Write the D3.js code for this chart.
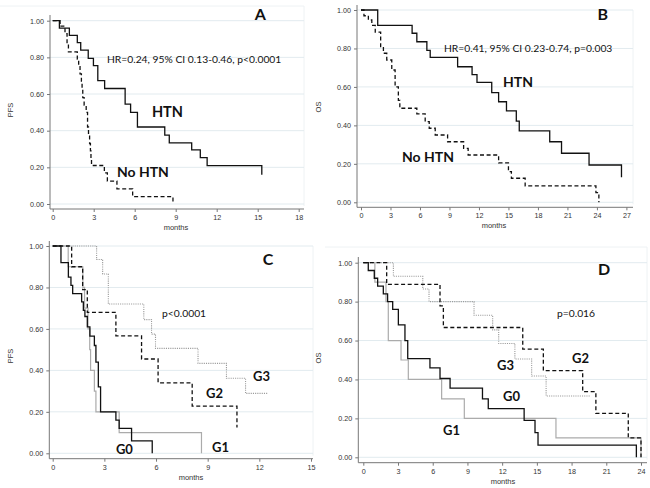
<!DOCTYPE html>
<html>
<head>
<meta charset="utf-8">
<script src="https://cdn.jsdelivr.net/npm/d3@7"></script>
<style>
  body { margin: 0; background: #fff; }
  svg { display: block; }
  .tick text { font-family: "Liberation Sans", Arial, sans-serif; font-size: 7.2px; fill: #333; }
  .axtitle { font-family: "Liberation Sans", Arial, sans-serif; font-size: 7.5px; fill: #333; }
  .note { font-family: Lato, "Open Sans", sans-serif; fill: #111; }
</style>
</head>
<body>
<script>
// Kaplan-Meier curves: [month, survival after the drop]
// every curve starts at (0, 1); *End is where the last horizontal run stops

// A - PFS by hypertension
const aHtn = [[0.49,0.96],[1.22,0.92],[1.8,0.88],[2.05,0.84],[2.6,0.795],[2.98,0.755],[3.3,0.673],
  [3.8,0.63],[5.3,0.545],[5.7,0.50],[6.2,0.42],[8.2,0.376],[8.53,0.334],[10.17,0.295],[10.8,0.253],
  [11.3,0.209],[15.3,0.16]];
const aHtnEnd = 15.3;
const aNoHtn = [[0.54,0.97],[0.9,0.93],[1.05,0.875],[1.15,0.83],[1.8,0.79],[1.9,0.75],[2.0,0.71],
  [2.1,0.67],[2.15,0.625],[2.2,0.58],[2.3,0.54],[2.45,0.50],[2.55,0.42],[2.62,0.375],[2.7,0.33],
  [2.76,0.29],[2.8,0.25],[2.84,0.21],[3.78,0.17],[4.0,0.125],[4.7,0.083],[5.85,0.04],[8.8,0.0]];
const aNoHtnEnd = 8.8;

// B - OS by hypertension
const bHtn = [[1.7,0.92],[5.2,0.879],[5.68,0.835],[6.7,0.79],[7.04,0.754],[9.83,0.705],[11.3,0.664],
  [11.8,0.624],[13.3,0.57],[14.0,0.523],[14.8,0.475],[15.8,0.422],[16.1,0.371],[19.2,0.315],
  [20.4,0.255],[23.2,0.194],[26.5,0.13]];
const bHtnEnd = 26.5;
const bNoHtn = [[0.3,0.97],[0.75,0.948],[1.1,0.92],[1.45,0.885],[2.0,0.81],[2.28,0.775],[2.62,0.74],
  [3.13,0.688],[3.47,0.60],[3.8,0.53],[3.95,0.489],[5.68,0.46],[6.53,0.42],[6.94,0.385],[7.55,0.35],
  [8.81,0.315],[10.44,0.28],[10.9,0.246],[14.0,0.205],[15.0,0.16],[15.3,0.125],[16.7,0.085],
  [23.9,0.05],[24.2,0.0]];
const bNoHtnEnd = 24.2;

// C - PFS by grade
const cG0 = [[0.48,0.92],[0.91,0.85],[1.06,0.81],[1.16,0.77],[1.68,0.73],[1.78,0.69],[1.87,0.66],
  [2.01,0.61],[2.16,0.565],[2.42,0.52],[2.51,0.44],[2.65,0.32],[2.78,0.2],[3.67,0.16],[3.86,0.12],
  [4.58,0.06],[5.78,0.0]];
const cG0End = 5.78;
const cG1 = [[0.9,0.9],[1.75,0.8],[1.85,0.7],[2.05,0.6],[2.15,0.5],[2.2,0.4],[2.42,0.3],[2.51,0.2],
  [3.86,0.1],[8.64,0.0]];
const cG1End = 8.64;
const cG2 = [[1.1,0.9],[1.74,0.79],[2.01,0.68],[3.67,0.566],[5.16,0.455],[6.12,0.34],[8.1,0.228],
  [10.7,0.125]];
const cG2End = 10.7;
const cG3 = [[2.55,0.935],[2.9,0.865],[3.23,0.72],[5.29,0.645],[5.74,0.575],[5.97,0.506],[8.44,0.434],
  [10.09,0.362],[11.2,0.289]];
const cG3End = 12.5;

// D - OS by grade
const dG0 = [[0.43,0.96],[0.95,0.92],[1.24,0.88],[1.73,0.84],[2.1,0.80],[2.54,0.76],[3.03,0.68],
  [3.6,0.60],[3.84,0.507],[5.76,0.46],[6.63,0.405],[7.5,0.355],[10.3,0.30],[10.8,0.25],[13.9,0.19],
  [14.84,0.127],[15.1,0.063],[23.6,0.0]];
const dG0End = 23.6;
const dG1 = [[1.0,0.9],[1.96,0.8],[2.16,0.6],[3.26,0.5],[3.89,0.4],[6.77,0.3],[8.73,0.2],[16.65,0.1],
  [24.0,0.0]];
const dG1End = 24.0;
const dG2 = [[2.02,0.889],[6.63,0.778],[6.92,0.667],[13.78,0.556],[15.56,0.445],[18.96,0.337],
  [20.1,0.226],[22.9,0.1],[24.0,0.0]];
const dG2End = 24.0;
const dG3 = [[2.6,0.93],[5.14,0.865],[5.68,0.80],[9.57,0.73],[11.18,0.655],[11.7,0.585],[13.1,0.505],
  [14.55,0.418],[15.8,0.315]];
const dG3End = 19.6;

// axis ticks
const yTicks = [0, 0.2, 0.4, 0.6, 0.8, 1.0];
const xTicksA = [0, 3, 6, 9, 12, 15, 18];
const xTicksB = [0, 3, 6, 9, 12, 15, 18, 21, 24, 27];
const xTicksC = [0, 3, 6, 9, 12, 15];
const xTicksD = [0, 3, 6, 9, 12, 15, 18, 21, 24];

// text in data units: [text, month, survival, size, bold?]
const notesA = [["A", 15.2, 1.037, 16, true], ["HR=0.24, 95% CI 0.13-0.46, p<0.0001", 3.97, 0.79, 10.3, false],
  ["HTN", 7.26, 0.507, 14.5, true], ["No HTN", 4.7, 0.175, 14, true]];
const notesB = [["B", 24.6, 0.984, 16, true], ["HR=0.41, 95% CI 0.23-0.74, p=0.003", 8.44, 0.80, 10.3, false],
  ["HTN", 14.45, 0.63, 14, true], ["No HTN", 4.17, 0.24, 14, true]];
const notesC = [["C", 12.5, 0.942, 16, true], ["p<0.0001", 6.35, 0.677, 10.3, false],
  ["G3", 11.63, 0.373, 13, true], ["G2", 8.9, 0.291, 13, true],
  ["G1", 9.25, 0.03, 13, true], ["G0", 3.67, 0.021, 13, true]];
const notesD = [["D", 20.8, 0.972, 16, true], ["p=0.016", 16.74, 0.741, 10.3, false],
  ["G3", 11.55, 0.475, 13, true], ["G2", 18.04, 0.51, 13, true],
  ["G0", 12.07, 0.315, 13, true], ["G1", 6.89, 0.14, 13, true]];

// line looks
const STYLE = {
  solid:  {stroke: "#111", width: 1.3, dash: null},
  dashed: {stroke: "#111", width: 1.3, dash: "4,2.6"},
  gray:   {stroke: "#ababab", width: 1.2, dash: null},
  dotted: {stroke: "#9b9b9b", width: 1.1, dash: "1.1,1.1"}
};

const W = 650, H = 488;
const svg = d3.select("body").append("svg").attr("width", W).attr("height", H);

function drawPanel(p) {
  let x = d3.scaleLinear().domain([0, p.xmax]).range(p.xr);
  let y = d3.scaleLinear().domain([0, 1]).range(p.yr);
  let g = svg.append("g");

  // faint frame bits
  if (p.frameTop != null) {
    g.append("line").attr("x1", p.frameLeft).attr("x2", p.right)
      .attr("y1", p.frameTop).attr("y2", p.frameTop)
      .attr("stroke", "#eef2f4");
  }
  g.append("line").attr("x1", p.right).attr("x2", p.right)
    .attr("y1", p.frameTop != null ? p.frameTop : y(1)).attr("y2", p.axisY - 3)
    .attr("stroke", "#eef2f4");

  // grid
  g.selectAll(".grid").data(yTicks).enter().append("line")
    .attr("x1", p.axisX).attr("x2", p.right)
    .attr("y1", d => y(d)).attr("y2", d => y(d))
    .attr("stroke", "#e2ebef").attr("stroke-width", 1);

  // y axis
  let yAxis = d3.axisLeft(y).tickValues(yTicks).tickSize(3).tickPadding(3)
    .tickFormat(d3.format(".2f"));
  let ya = g.append("g").attr("transform", "translate(" + p.axisX + ",0)").call(yAxis);
  ya.select(".domain").remove();
  ya.selectAll(".tick line").attr("stroke", "#777");
  g.append("line").attr("x1", p.axisX).attr("x2", p.axisX)
    .attr("y1", p.top).attr("y2", p.axisY).attr("stroke", "#777");

  // x axis
  let xAxis = d3.axisBottom(x).tickValues(p.xticks).tickSize(3).tickPadding(3);
  let xa = g.append("g").attr("transform", "translate(0," + p.axisY + ")").call(xAxis);
  xa.select(".domain").remove();
  xa.selectAll(".tick line").attr("stroke", "#777");
  g.append("line").attr("x1", p.axisX).attr("x2", p.right)
    .attr("y1", p.axisY).attr("y2", p.axisY).attr("stroke", "#777");

  // axis titles
  g.append("text").attr("class", "axtitle")
    .attr("x", p.monthsX).attr("y", p.axisY + 21)
    .attr("text-anchor", "middle").attr("fill", "#333")
    .text("months");
  g.append("text").attr("class", "axtitle")
    .attr("transform", "translate(" + p.titleX + "," + p.titleY + ") rotate(-90)")
    .attr("text-anchor", "middle").attr("fill", "#333")
    .text(p.title);

  // curves
  let line = d3.line()
    .x(d => x(d[0]))
    .y(d => y(d[1]))
    .curve(d3.curveStepAfter);

  p.curves.forEach(c => {
    let pts = [[0, 1]].concat(c.steps);
    let last = c.steps[c.steps.length - 1];
    if (c.end > last[0]) pts.push([c.end, last[1]]);
    let st = STYLE[c.style];
    g.append("path")
      .datum(pts)
      .attr("d", line)
      .attr("fill", "none")
      .attr("stroke", st.stroke)
      .attr("stroke-width", st.width)
      .attr("stroke-dasharray", st.dash);
  });

  // notes
  g.selectAll(".note").data(p.notes).enter().append("text")
    .attr("class", "note")
    .attr("x", d => x(d[1]))
    .attr("y", d => y(d[2]))
    .attr("dominant-baseline", "central")
    .attr("text-anchor", d => d[0].length === 1 ? "middle" : "start")
    .style("font-size", d => d[3] + "px")
    .style("font-weight", d => d[4] ? "bold" : "normal")
    .text(d => d[0]);
}

const panels = [
  {xmax: 18, xticks: xTicksA, xr: [52.7, 298.7], yr: [204, 20.7], axisX: 50, axisY: 209,
   top: 15, right: 304, frameTop: 6, frameLeft: 0, monthsX: 176, title: "PFS", titleX: 13, titleY: 110,
   notes: notesA,
   curves: [{steps: aHtn, end: aHtnEnd, style: "solid"}, {steps: aNoHtn, end: aNoHtnEnd, style: "dashed"}]},
  {xmax: 27, xticks: xTicksB, xr: [361, 626.4], yr: [202.3, 10], axisX: 357, axisY: 207.3,
   top: 5, right: 633, frameTop: null, frameLeft: 325, monthsX: 494, title: "OS", titleX: 321, titleY: 107,
   notes: notesB,
   curves: [{steps: bHtn, end: bHtnEnd, style: "solid"}, {steps: bNoHtn, end: bNoHtnEnd, style: "dashed"}]},
  {xmax: 15, xticks: xTicksC, xr: [52.7, 311], yr: [453.3, 246], axisX: 49.3, axisY: 458.7,
   top: 241, right: 313, frameTop: null, frameLeft: 0, monthsX: 191, title: "PFS", titleX: 13, titleY: 356,
   notes: notesC,
   curves: [{steps: cG3, end: cG3End, style: "dotted"}, {steps: cG1, end: cG1End, style: "gray"},
            {steps: cG2, end: cG2End, style: "dashed"}, {steps: cG0, end: cG0End, style: "solid"}]},
  {xmax: 24, xticks: xTicksD, xr: [363.3, 641], yr: [457.3, 262.7], axisX: 358.3, axisY: 462.7,
   top: 257, right: 647, frameTop: 247, frameLeft: 325, monthsX: 503, title: "OS", titleX: 321, titleY: 358,
   notes: notesD,
   curves: [{steps: dG3, end: dG3End, style: "dotted"}, {steps: dG1, end: dG1End, style: "gray"},
            {steps: dG2, end: dG2End, style: "dashed"}, {steps: dG0, end: dG0End, style: "solid"}]}
];

panels.forEach(drawPanel);
</script>
</body>
</html>
